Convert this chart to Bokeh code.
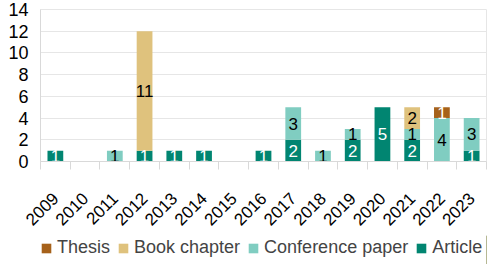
import math
from bokeh.plotting import figure
from bokeh.layouts import column
from bokeh.models import ColumnDataSource, Range1d, FixedTicker, Legend, LegendItem
from bokeh.core.properties import value
from bokeh.embed import file_html
from bokeh.resources import INLINE

years = ["2009", "2010", "2011", "2012", "2013", "2014", "2015", "2016",
         "2017", "2018", "2019", "2020", "2021", "2022", "2023"]
article = [1, 0, 0, 1, 1, 1, 0, 1, 2, 0, 2, 5, 2, 0, 1]
conference = [0, 0, 1, 0, 0, 0, 0, 0, 3, 1, 1, 0, 1, 4, 3]
book = [0, 0, 0, 11, 0, 0, 0, 0, 0, 0, 0, 0, 2, 0, 0]
thesis = [0, 0, 0, 0, 0, 0, 0, 0, 0, 0, 0, 0, 0, 1, 0]

series = ["Article", "Conference paper", "Book chapter", "Thesis"]
colors = ["#018571", "#80cdc1", "#dfc27d", "#a6611a"]
label_colors = ["white", "black", "black", "white"]
FONT = "Liberation Sans"

x = [i + 0.5 for i in range(len(years))]
data = {"x": x, "Article": article, "Conference paper": conference,
        "Book chapter": book, "Thesis": thesis}
source = ColumnDataSource(data)

p = figure(width=488, height=235, output_backend="svg", toolbar_location=None,
           x_range=Range1d(0, len(years)), y_range=Range1d(0, 14),
           min_border_left=40, min_border_right=2, min_border_top=9,
           min_border_bottom=74)

renderers = p.vbar_stack(series, x="x", width=0.53, color=colors, source=source,
                         line_color=None)

# segment labels
lx, ly, lt, lc = [], [], [], []
base = [0] * len(years)
for s, vals, c in zip(series, [article, conference, book, thesis], label_colors):
    for i, v in enumerate(vals):
        if v > 0:
            lx.append(x[i]); ly.append(base[i] + v / 2); lt.append(str(v)); lc.append(c)
            base[i] += v
p.text(x=lx, y=ly, text=lt, text_color=lc, text_align="center",
       text_baseline="middle", text_font=value(FONT), text_font_size="17px")

p.xaxis.ticker = FixedTicker(ticks=x, minor_ticks=list(range(len(years) + 1)))
p.xaxis.major_label_overrides = {xv: y for xv, y in zip(x, years)}
p.xaxis.major_label_orientation = math.pi / 4
p.xaxis.major_tick_line_color = None
p.xaxis.major_tick_out = 0
p.xaxis.major_tick_in = 0
p.xaxis.minor_tick_line_color = "#d9d9d9"
p.xaxis.minor_tick_in = 0
p.xaxis.minor_tick_out = 8
p.xaxis.axis_line_color = "#d9d9d9"
p.xaxis.major_label_text_font = FONT
p.xaxis.major_label_text_font_size = "17px"
p.xaxis.major_label_text_color = "black"
p.xaxis.major_label_standoff = 26

p.yaxis.ticker = FixedTicker(ticks=list(range(0, 15, 2)))
p.yaxis.major_tick_line_color = None
p.yaxis.major_tick_out = 0
p.yaxis.major_tick_in = 0
p.yaxis.minor_tick_line_color = None
p.yaxis.axis_line_color = "#d9d9d9"
p.yaxis.major_label_text_font = FONT
p.yaxis.major_label_text_font_size = "18px"
p.yaxis.major_label_text_color = "black"
p.yaxis.major_label_standoff = 12

p.xgrid.grid_line_color = None
p.ygrid.grid_line_color = "#e6e6e6"
p.outline_line_color = "#e6e6e6"

# legend in its own strip below the chart
lf = figure(width=488, height=29, output_backend="svg", toolbar_location=None,
            x_range=Range1d(0, 1), y_range=Range1d(0, 1),
            min_border=0)
lf.axis.visible = False
lf.grid.visible = False
lf.outline_line_color = None
leg_renderers = [lf.vbar(x=[5], top=[1], width=0.5, color=c, line_color=None)
                 for c in colors]
items = [LegendItem(label=s, renderers=[r]) for s, r in zip(series, leg_renderers)][::-1]
legend = Legend(items=items, orientation="horizontal", location=(0, 6),
                label_text_font=FONT, label_text_font_size="18px",
                glyph_width=12, glyph_height=12, spacing=7, label_standoff=5,
                border_line_color=None, background_fill_alpha=0,
                margin=0, padding=0)
lf.add_layout(legend, "center")

layout = column(p, lf, spacing=0)
open("out.html", "w").write(file_html(layout, INLINE))
